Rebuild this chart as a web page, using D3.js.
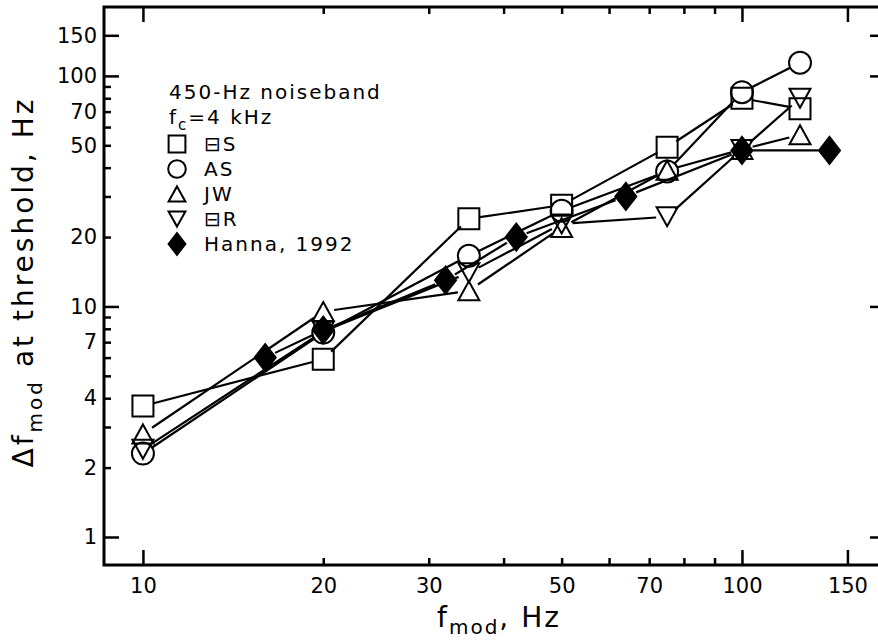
<!DOCTYPE html>
<html>
<head>
<meta charset="utf-8">
<script src="https://cdn.jsdelivr.net/npm/d3@7"></script>
<style>
  body { margin: 0; background: #fff; }
  text { font-family: "DejaVu Sans", sans-serif; fill: #000; }
</style>
</head>
<body>
<svg id="chart" width="878" height="641"></svg>
<script>
// modulation rates (Hz)
const fmodSubj = [10, 20, 35, 50, 75, 100, 125];
const fmodHanna = [16, 20, 32, 42, 64, 100, 140];

// delta f_mod at threshold (Hz)
const dfES = [3.7, 5.9, 24, 27.5, 49, 80, 72];
const dfAS = [2.3, 7.7, 16.6, 26, 38.5, 85, 114];
const dfJW = [2.8, 9.5, 11.7, 22, 39, 48, 55.5];
const dfER = [2.4, 7.8, 14, 22.8, 24.5, 48, 80];
const dfHanna = [6, 7.9, 13, 20, 30, 47.5, 47.5];

const seriesNames = ["\u229fS", "AS", "JW", "\u229fR", "Hanna, 1992"];
const seriesShapes = ["square", "circle", "up", "down", "diamond"];

// ticks
const xTicks = [10, 20, 30, 40, 50, 60, 70, 80, 90, 100, 150];
const xLabels = [10, 20, 30, 50, 70, 100, 150];
const xLong = [10, 100, 150];
const yTicks = [1, 2, 3, 4, 5, 6, 7, 8, 9, 10, 20, 30, 40, 50, 60, 70, 80, 90, 100, 150];
const yLabels = [1, 2, 4, 7, 10, 20, 50, 70, 100, 150];
const yLong = [1, 10, 100, 150];

const plot = { left: 104, right: 885, top: 7, bottom: 565 };

const svg = d3.select("#chart");

const x = d3.scaleLog().domain([8.61, 173.3]).range([plot.left, plot.right]);
const y = d3.scaleLog().domain([0.756, 199]).range([plot.bottom, plot.top]);

// marker paths, centred on 0,0
function shapePath(shape, k) {
  const s = 10.5 * k, r = 11 * k, w = 10.5 * k, h = 9.5 * k;
  switch (shape) {
    case "square": return `M${-s},${-s}h${2 * s}v${2 * s}h${-2 * s}Z`;
    case "circle": return `M${-r},0a${r},${r} 0 1,0 ${2 * r},0a${r},${r} 0 1,0 ${-2 * r},0Z`;
    case "up": return `M0,${-h}L${w},${h}L${-w},${h}Z`;
    case "down": return `M0,${h}L${w},${-h}L${-w},${-h}Z`;
    case "diamond": return `M0,${-13.5 * k}L${10.5 * k},0L0,${13.5 * k}L${-10.5 * k},0Z`;
  }
}

const series = [
  { xs: fmodSubj, ys: dfES },
  { xs: fmodSubj, ys: dfAS },
  { xs: fmodSubj, ys: dfJW },
  { xs: fmodSubj, ys: dfER },
  { xs: fmodHanna, ys: dfHanna }
].map((d, i) => ({
  name: seriesNames[i],
  shape: seriesShapes[i],
  points: d.xs.map((v, j) => ({ f: v, df: d.ys[j] }))
}));

// Axes: inward ticks on all four sides
const shortTick = 7, longTick = 15;

function styleAxis(g, longList) {
  g.select(".domain").remove();
  g.selectAll(".tick line").attr("stroke", "#000").attr("stroke-width", 2.5);
  g.selectAll(".tick text").style("font-family", "DejaVu Sans").style("font-size", "21px");
  g.selectAll(".tick").filter(d => longList.includes(d)).select("line")
    .each(function () {
      const l = d3.select(this);
      if (l.attr("y2") !== null && +l.attr("y2") !== 0) l.attr("y2", Math.sign(+l.attr("y2")) * longTick);
      if (l.attr("x2") !== null && +l.attr("x2") !== 0) l.attr("x2", Math.sign(+l.attr("x2")) * longTick);
    });
}

const xFmt = d => xLabels.includes(d) ? d3.format("d")(d) : "";
const yFmt = d => yLabels.includes(d) ? d3.format("d")(d) : "";

svg.append("g")
  .attr("transform", `translate(0,${plot.bottom})`)
  .call(d3.axisBottom(x).tickValues(xTicks).tickFormat(xFmt).tickSize(-shortTick).tickPadding(13))
  .call(g => styleAxis(g, xLong));

svg.append("g")
  .attr("transform", `translate(0,${plot.top})`)
  .call(d3.axisTop(x).tickValues(xTicks).tickFormat("").tickSize(-shortTick))
  .call(g => styleAxis(g, xLong));

svg.append("g")
  .attr("transform", `translate(${plot.left},0)`)
  .call(d3.axisLeft(y).tickValues(yTicks).tickFormat(yFmt).tickSize(-shortTick).tickPadding(7))
  .call(g => styleAxis(g, yLong));

svg.append("g")
  .attr("transform", `translate(${plot.right},0)`)
  .call(d3.axisRight(y).tickValues(yTicks).tickFormat("").tickSize(-shortTick))
  .call(g => styleAxis(g, yLong));

svg.append("rect")
  .attr("x", plot.left).attr("y", plot.top)
  .attr("width", plot.right - plot.left).attr("height", plot.bottom - plot.top)
  .attr("fill", "none").attr("stroke", "#000").attr("stroke-width", 3);

// Data lines, stopped short of the markers
const gap = 11;
const lines = svg.append("g");
series.forEach(s => {
  for (let i = 0; i < s.points.length - 1; i++) {
    const x1 = x(s.points[i].f), y1 = y(s.points[i].df);
    const x2 = x(s.points[i + 1].f), y2 = y(s.points[i + 1].df);
    const len = Math.hypot(x2 - x1, y2 - y1);
    if (len <= 2 * gap) continue;
    const ux = (x2 - x1) / len, uy = (y2 - y1) / len;
    lines.append("line")
      .attr("x1", x1 + ux * gap).attr("y1", y1 + uy * gap)
      .attr("x2", x2 - ux * gap).attr("y2", y2 - uy * gap)
      .attr("stroke", "#000").attr("stroke-width", 2.2);
  }
});

// Markers
series.forEach(s => {
  svg.append("g").selectAll("path")
    .data(s.points)
    .join("path")
    .attr("transform", d => `translate(${x(d.f)},${y(d.df)})`)
    .attr("d", shapePath(s.shape, 1))
    .attr("fill", s.shape === "diamond" ? "#000" : "none")
    .attr("stroke", "#000")
    .attr("stroke-width", 2);
});

// Legend
const legend = svg.append("g");
legend.append("text").attr("x", 169).attr("y", 99)
  .style("font-size", "20px").style("letter-spacing", "2px")
  .text("450-Hz  noiseband");
const fc = legend.append("text").attr("x", 169).attr("y", 124)
  .style("font-size", "20px").style("letter-spacing", "2px");
fc.append("tspan").text("f");
fc.append("tspan").attr("dy", 6).style("font-size", "15px").text("c");
fc.append("tspan").attr("dy", -6).text("=4  kHz");

series.forEach((s, i) => {
  const cy = 144 + i * 25;
  legend.append("path")
    .attr("transform", `translate(177,${cy})`)
    .attr("d", shapePath(s.shape, 0.8))
    .attr("fill", s.shape === "diamond" ? "#000" : "none")
    .attr("stroke", "#000").attr("stroke-width", 2);
  legend.append("text").attr("x", 204).attr("y", cy + 7)
    .style("font-size", "20px").style("letter-spacing", "2px")
    .text(s.name);
});

// Axis titles
const xt = svg.append("text")
  .attr("x", 499).attr("y", 627)
  .attr("text-anchor", "middle")
  .style("font-size", "28px")
  .style("letter-spacing", "2px");
xt.append("tspan").text("f");
xt.append("tspan").attr("dy", 7).style("font-size", "20px").text("mod");
xt.append("tspan").attr("dy", -7).text(",  Hz");

const yt = svg.append("text")
  .attr("transform", "translate(33,282) rotate(-90)")
  .attr("text-anchor", "middle")
  .style("font-size", "28px")
  .style("letter-spacing", "3px");
yt.append("tspan").text("\u0394f");
yt.append("tspan").attr("dy", 9).style("font-size", "20px").text("mod");
yt.append("tspan").attr("dy", -9).text("  at  threshold,  Hz");
</script>
</body>
</html>
